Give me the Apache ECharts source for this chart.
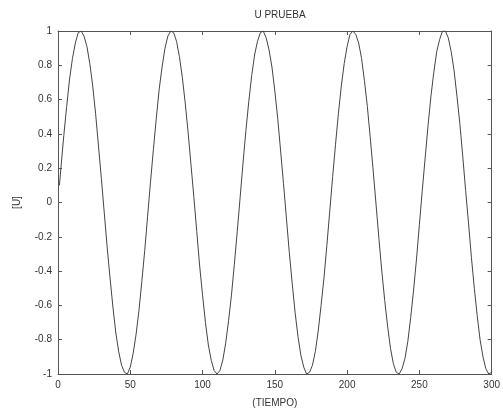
<!DOCTYPE html>
<html><head><meta charset="utf-8">
<script src="https://cdn.jsdelivr.net/npm/echarts@6/dist/echarts.min.js"></script>
<style>html,body{margin:0;padding:0;background:#fff}#c{width:503px;height:414px}</style>
</head><body><div id="c"></div>
<script>
const tiempo = [1,2,4,6,8,10,12,14,16,18,20,22,24,26,28,30,32,34,36,38,40,42,44,46,48,50,52,54,56,58,60,62,64,66,68,70,72,74,76,78,80,82,84,86,88,90,92,94,96,98,100,102,104,106,108,110,112,114,116,118,120,122,124,126,128,130,132,134,136,138,140,142,144,146,148,150,152,154,156,158,160,162,164,166,168,170,172,174,176,178,180,182,184,186,188,190,192,194,196,198,200,202,204,206,208,210,212,214,216,218,220,222,224,226,228,230,232,234,236,238,240,242,244,246,248,250,252,254,256,258,260,262,264,266,268,270,272,274,276,278,280,282,284,286,288,290,292,294,296,298,300];
const u = [0.10,0.20,0.39,0.56,0.72,0.84,0.93,0.99,1.00,0.97,0.91,0.81,0.68,0.52,0.33,0.14,-0.06,-0.26,-0.44,-0.61,-0.76,-0.87,-0.95,-0.99,-1.00,-0.96,-0.88,-0.77,-0.63,-0.46,-0.28,-0.08,0.12,0.31,0.49,0.66,0.79,0.90,0.97,1.00,0.99,0.94,0.85,0.73,0.58,0.41,0.22,0.03,-0.17,-0.37,-0.54,-0.70,-0.83,-0.92,-0.98,-1.00,-0.98,-0.92,-0.82,-0.69,-0.54,-0.36,-0.17,0.03,0.23,0.42,0.59,0.74,0.86,0.94,0.99,1.00,0.96,0.89,0.79,0.65,0.49,0.30,0.11,-0.09,-0.29,-0.47,-0.64,-0.78,-0.89,-0.96,-1.00,-0.99,-0.95,-0.87,-0.75,-0.60,-0.44,-0.25,-0.05,0.15,0.34,0.52,0.68,0.81,0.91,0.98,1.00,0.98,0.93,0.84,0.71,0.56,0.38,0.19,-0.01,-0.21,-0.40,-0.57,-0.72,-0.85,-0.94,-0.99,-1.00,-0.97,-0.91,-0.81,-0.67,-0.51,-0.33,-0.13,0.07,0.26,0.45,0.62,0.76,0.88,0.95,1.00,1.00,0.96,0.88,0.77,0.62,0.46,0.27,0.07,-0.12,-0.32,-0.50,-0.66,-0.80,-0.90,-0.97,-1.00,-0.99];
const titleText = 'U PRUEBA';
const xName = '(TIEMPO)';
const yName = '[U]';

const axisCol = '#555';
const font = 'Liberation Sans, Arial, sans-serif';
const chart = echarts.init(document.getElementById('c'));
const lineOn = { show: true, onZero: false, lineStyle: { color: axisCol, width: 1 } };
const tickIn = { show: true, inside: true, length: 4, lineStyle: { color: axisCol } };
chart.setOption({
  animation: false,
  backgroundColor: '#fff',
  title: { text: titleText, left: 275, top: 5, textAlign: 'center',
    textStyle: { fontSize: 10, fontWeight: 'normal', color: '#333', fontFamily: font } },
  grid: { left: 58, right: 10, top: 31, bottom: 40 },
  xAxis: [
    { type: 'value', min: 0, max: 300, interval: 50, position: 'bottom',
      name: xName, nameLocation: 'middle', nameGap: 24, nameMoveOverlap: false,
      nameTextStyle: { fontSize: 10, color: '#333', fontFamily: font },
      axisLine: lineOn, axisTick: tickIn,
      axisLabel: { fontSize: 10, color: '#333', margin: 6, fontFamily: font },
      splitLine: { show: false } },
    { type: 'value', min: 0, max: 300, interval: 50, position: 'top',
      axisLine: lineOn, axisTick: tickIn,
      axisLabel: { show: false }, splitLine: { show: false } }
  ],
  yAxis: [
    { type: 'value', min: -1, max: 1, interval: 0.2, position: 'left',
      name: yName, nameLocation: 'middle', nameGap: 36, nameRotate: 90, nameMoveOverlap: false,
      nameTextStyle: { fontSize: 10, color: '#333', fontFamily: font },
      axisLine: lineOn, axisTick: tickIn,
      axisLabel: { fontSize: 10, color: '#333', margin: 6, fontFamily: font,
        formatter: v => String(Math.round(v * 10) / 10) },
      splitLine: { show: false } },
    { type: 'value', min: -1, max: 1, interval: 0.2, position: 'right',
      axisLine: lineOn, axisTick: tickIn,
      axisLabel: { show: false }, splitLine: { show: false } }
  ],
  series: [{
    type: 'line', xAxisIndex: 0, yAxisIndex: 0,
    data: tiempo.map((t, i) => [t, u[i]]),
    smooth: false, showSymbol: false,
    lineStyle: { color: '#444', width: 1 }
  }]
});
</script>
</body></html>
